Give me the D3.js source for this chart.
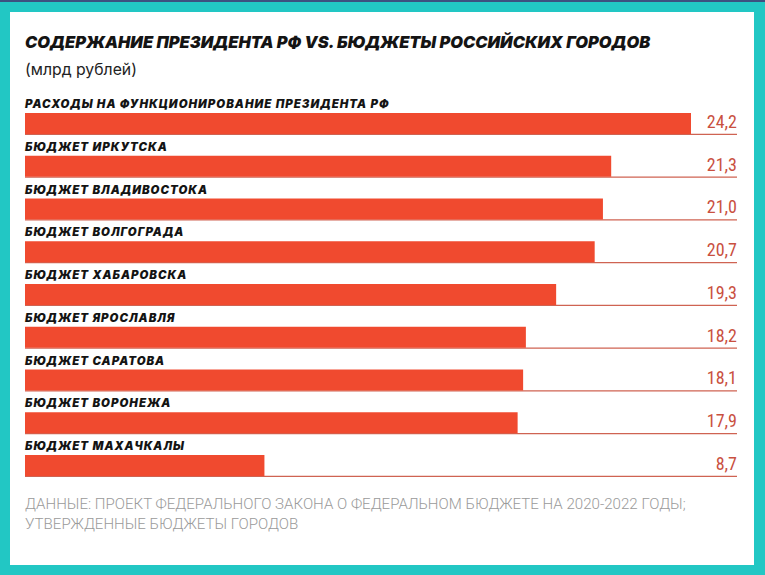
<!DOCTYPE html>
<html>
<head>
<meta charset="utf-8">
<script src="https://cdn.jsdelivr.net/npm/d3@7/dist/d3.min.js"></script>
<style>
  html, body { margin: 0; padding: 0; background: #22c7c4; }
  svg { display: block; }
</style>
</head>
<body>
<svg id="chart" width="765" height="575"></svg>
<script>
const title = "СОДЕРЖАНИЕ ПРЕЗИДЕНТА РФ VS. БЮДЖЕТЫ РОССИЙСКИХ ГОРОДОВ";
const subtitle = "(млрд рублей)";
const categories = [
  "РАСХОДЫ НА ФУНКЦИОНИРОВАНИЕ ПРЕЗИДЕНТА РФ",
  "БЮДЖЕТ ИРКУТСКА",
  "БЮДЖЕТ ВЛАДИВОСТОКА",
  "БЮДЖЕТ ВОЛГОГРАДА",
  "БЮДЖЕТ ХАБАРОВСКА",
  "БЮДЖЕТ ЯРОСЛАВЛЯ",
  "БЮДЖЕТ САРАТОВА",
  "БЮДЖЕТ ВОРОНЕЖА",
  "БЮДЖЕТ МАХАЧКАЛЫ"
];
const values = [24.2, 21.3, 21.0, 20.7, 19.3, 18.2, 18.1, 17.9, 8.7];
const valueLabels = ["24,2", "21,3", "21,0", "20,7", "19,3", "18,2", "18,1", "17,9", "8,7"];
const footnote = [
  "ДАННЫЕ: ПРОЕКТ ФЕДЕРАЛЬНОГО ЗАКОНА О ФЕДЕРАЛЬНОМ БЮДЖЕТЕ НА 2020-2022 ГОДЫ;",
  "УТВЕРЖДЕННЫЕ БЮДЖЕТЫ ГОРОДОВ"
];

const data = categories.map((c, i) => ({ cat: c, value: values[i], label: valueLabels[i] }));

const svg = d3.select("#chart");

// frame
svg.append("rect").attr("x", 0).attr("y", 0).attr("width", 765).attr("height", 575).attr("fill", "#22c7c4");
svg.append("rect").attr("x", 0).attr("y", 0).attr("width", 765).attr("height", 2).attr("fill", "#3d5080");
svg.append("rect").attr("x", 10).attr("y", 12).attr("width", 744).attr("height", 553).attr("fill", "#ffffff");

function fitFont(sel, target, base) {
  const w = sel.node().getComputedTextLength();
  const fs = base * target / w;
  sel.style("font-size", fs + "px");
  return fs;
}

// title
const t = svg.append("text")
  .attr("x", 25).attr("y", 48)
  .style("font-family", "Inter, 'Open Sans', sans-serif")
  .style("font-weight", 900)
  .style("font-style", "italic")
  .style("font-size", "18px")
  .attr("fill", "#141414")
  .text(title);
fitFont(t, 626, 18);

const st = svg.append("text")
  .attr("x", 25).attr("y", 75)
  .style("font-family", "Inter, 'Open Sans', sans-serif")
  .style("font-weight", 400)
  .style("font-size", "16px")
  .attr("fill", "#222")
  .text(subtitle);
fitFont(st, 112, 16);

const x = d3.scaleLinear().domain([0, 24.2]).range([25, 691]);
const y = d3.scaleBand().domain(categories).range([113, 476]).paddingInner(0.509).paddingOuter(0);

const g = svg.append("g");

// underline
g.selectAll("line.base").data(data).join("line")
  .attr("class", "base")
  .attr("x1", x(0)).attr("x2", 737)
  .attr("y1", d => y(d.cat) + y.bandwidth() + 0.3)
  .attr("y2", d => y(d.cat) + y.bandwidth() + 0.3)
  .attr("stroke", "#cf6352")
  .attr("stroke-width", 1.3);

// bars
g.selectAll("rect.bar").data(data).join("rect")
  .attr("class", "bar")
  .attr("x", x(0))
  .attr("y", d => y(d.cat))
  .attr("width", d => x(d.value) - x(0))
  .attr("height", y.bandwidth())
  .attr("fill", "#f04a2f");

// category labels
const labels = g.selectAll("text.cat").data(data).join("text")
  .attr("class", "cat")
  .attr("x", 25)
  .attr("y", d => y(d.cat) - 5)
  .style("font-family", "Inter, 'Open Sans', sans-serif")
  .style("font-weight", 900)
  .style("font-style", "italic")
  .style("font-size", "12px")
  .style("letter-spacing", "1px")
  .attr("fill", "#141414")
  .text(d => d.cat);
{
  const first = labels.filter((d, i) => i === 0);
  const w = first.node().getComputedTextLength();
  const fs = 12 * 363 / w;
  labels.style("font-size", fs + "px");
}

// value labels
g.selectAll("text.val").data(data).join("text")
  .attr("class", "val")
  .attr("x", 737)
  .attr("y", d => y(d.cat) + y.bandwidth() - 6)
  .attr("text-anchor", "end")
  .style("font-family", "'Liberation Sans Narrow', 'Roboto Condensed', Roboto, sans-serif")
  .style("font-weight", 400)
  .style("font-size", "18px")
  .attr("fill", "#c9503f")
  .text(d => d.label);

// footnote
const fn = svg.selectAll("text.fn").data(footnote).join("text")
  .attr("class", "fn")
  .attr("x", 25)
  .attr("y", (d, i) => 509 + i * 20)
  .style("font-family", "Roboto, sans-serif")
  .style("font-weight", 300)
  .style("font-size", "14px")
  .attr("fill", "#9a9a9a")
  .text(d => d);
{
  const first = fn.filter((d, i) => i === 0);
  const w = first.node().getComputedTextLength();
  fn.style("font-size", (14 * 661 / w) + "px");
}
</script>
</body>
</html>
